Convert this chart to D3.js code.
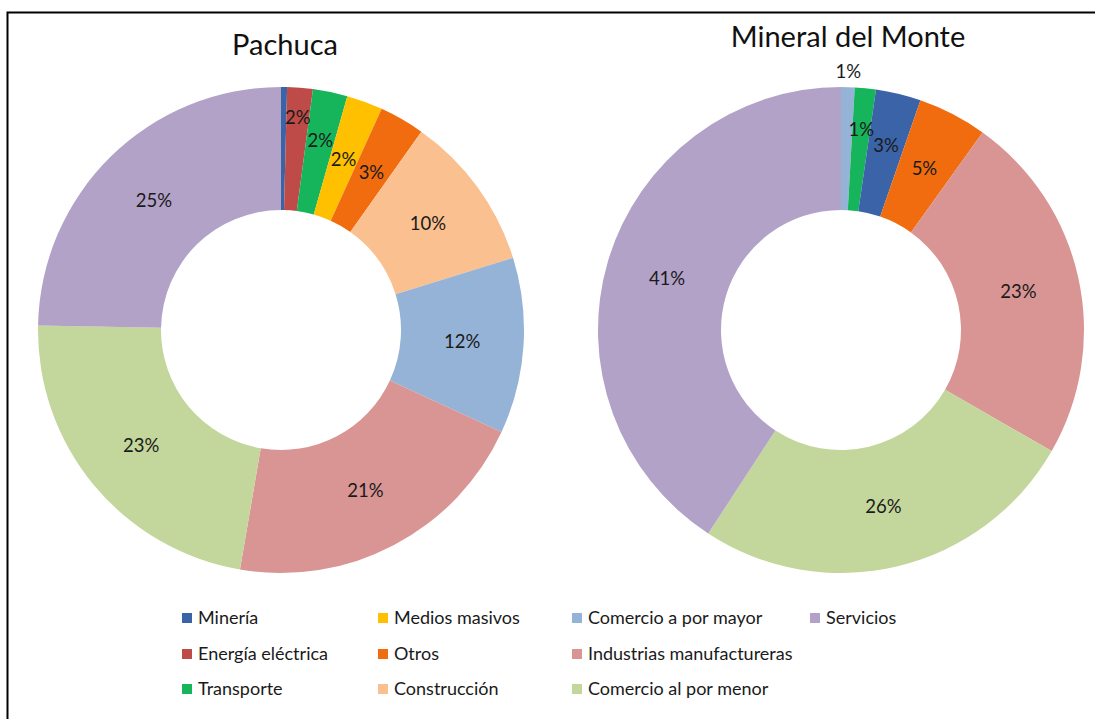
<!DOCTYPE html>
<html>
<head>
<meta charset="utf-8">
<script src="https://cdn.jsdelivr.net/npm/d3@7"></script>
<style>
  body { margin: 0; background: #fff; }
  svg { font-family: Lato, "Open Sans", sans-serif; }
</style>
</head>
<body>
<div id="chart"></div>
<script>
// categorías (orden de la leyenda)
const categorias = ["Minería", "Energía eléctrica", "Transporte", "Medios masivos", "Otros",
  "Construcción", "Comercio a por mayor", "Industrias manufactureras", "Comercio al por menor", "Servicios"];
const colores = ["#3B64A8", "#BE4B48", "#17B55B", "#FFC000", "#F06C0F",
  "#FAC090", "#95B3D7", "#D99594", "#C3D69B", "#B3A2C7"];

// Pachuca (% en el orden del anillo)
const pachucaCats = ["Minería", "Energía eléctrica", "Transporte", "Medios masivos", "Otros",
  "Construcción", "Comercio a por mayor", "Industrias manufactureras", "Comercio al por menor", "Servicios"];
const pachucaVals = [0.4, 1.7, 2.3, 2.4, 3.0, 10.4, 11.7, 20.8, 22.6, 24.7];

// Mineral del Monte
const mineralCats = ["Comercio a por mayor", "Transporte", "Minería", "Otros",
  "Industrias manufactureras", "Comercio al por menor", "Servicios"];
const mineralVals = [0.9, 1.4, 3.0, 4.6, 23.4, 25.9, 40.8];

const width = 1095, height = 719;
const rOut = 243, rIn = 120;

const color = d3.scaleOrdinal().domain(categorias).range(colores);

const svg = d3.select("#chart")
  .append("svg")
  .attr("width", width)
  .attr("height", height);

svg.append("rect").attr("width", width).attr("height", height).attr("fill", "#fff");

// marco
svg.append("path")
  .attr("d", `M7.5,${height} L7.5,12.5 L${width},12.5`)
  .attr("fill", "none")
  .attr("stroke", "#000")
  .attr("stroke-width", 2);

// etiquetas de rebanadas chicas desplazadas (como lo hace Excel)
function dona(cx, cy, titulo, tx, ty, cats, vals, radioEtiq) {
  const datos = cats.map((c, i) => ({ cat: c, val: vals[i] }));
  const total = d3.sum(vals);
  const pie = d3.pie().value(d => d.val).sort(null);
  const arc = d3.arc().innerRadius(rIn).outerRadius(rOut);

  const g = svg.append("g").attr("transform", `translate(${cx},${cy})`);
  const arcos = pie(datos);

  g.selectAll("path")
    .data(arcos)
    .enter()
    .append("path")
    .attr("d", arc)
    .attr("fill", d => color(d.data.cat));

  g.selectAll("text")
    .data(arcos.filter(d => Math.round(d.data.val / total * 100) > 0))
    .enter()
    .append("text")
    .attr("transform", d => {
      let r = (rIn + rOut) / 2;
      if (d.data.val < 1) r = rOut + 16;
      if (radioEtiq[d.data.cat]) r = radioEtiq[d.data.cat];
      const p = d3.arc().innerRadius(r).outerRadius(r).centroid(d);
      return `translate(${p[0]},${p[1]})`;
    })
    .attr("text-anchor", "middle")
    .attr("dy", "0.35em")
    .attr("font-size", 18.5)
    .attr("fill", "#1a1a1a")
    .text(d => Math.round(d.data.val / total * 100) + "%");

  svg.append("text")
    .attr("x", tx)
    .attr("y", ty)
    .attr("text-anchor", "middle")
    .attr("font-size", 29)
    .attr("fill", "#111")
    .text(titulo);
}

dona(281, 330, "Pachuca", 285, 55, pachucaCats, pachucaVals,
  { "Energía eléctrica": 213, "Transporte": 194 });
dona(841, 330, "Mineral del Monte", 848, 47, mineralCats, mineralVals,
  { "Transporte": 202, "Minería": 190 });

// Leyenda
const colX = [182, 378, 572, 810];
const filaY = [618, 654, 689];
const ley = svg.append("g");
categorias.forEach((c, i) => {
  const x = colX[Math.floor(i / 3)], y = filaY[i % 3];
  ley.append("rect")
    .attr("x", x).attr("y", y - 5)
    .attr("width", 10).attr("height", 10)
    .attr("fill", color(c));
  ley.append("text")
    .attr("x", x + 16).attr("y", y)
    .attr("dy", "0.35em")
    .attr("font-size", 18)
    .attr("fill", "#1a1a1a")
    .text(c);
});
</script>
</body>
</html>
